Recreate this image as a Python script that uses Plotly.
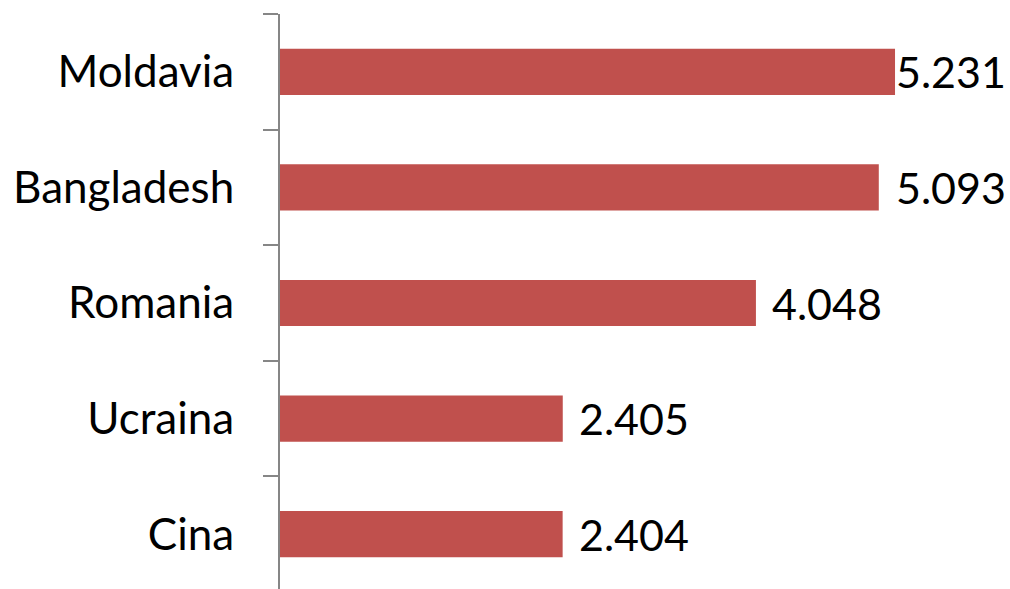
import plotly.graph_objects as go

countries = ["Cina", "Ucraina", "Romania", "Bangladesh", "Moldavia"]
values = [2404, 2405, 4048, 5093, 5231]
label_texts = ["2.404", "2.405", "4.048", "5.093", "5.231"]
label_shifts = [14, 14, 14, 15, -1]

fig = go.Figure(go.Bar(
    x=values, y=countries, orientation="h",
    marker=dict(color="#C0504D", line=dict(width=0)),
    hoverinfo="skip",
))

for c, v, t, s in zip(countries, values, label_texts, label_shifts):
    fig.add_annotation(
        x=v, y=c, xref="x", yref="y", text=t, showarrow=False,
        xanchor="left", yanchor="middle", xshift=s,
        font=dict(size=43, color="#000000", family="Lato"),
    )

fig.update_layout(
    width=1010, height=589,
    margin=dict(l=280, r=0, t=14, b=0),
    paper_bgcolor="white", plot_bgcolor="white",
    bargap=0.6,
    showlegend=False,
    font=dict(family="Lato", color="#000000"),
    xaxis=dict(range=[0, 6209], visible=False, showgrid=False, zeroline=False),
    yaxis=dict(
        type="category", range=[-0.474, 4.5],
        showline=True, linecolor="#868686", linewidth=2,
        ticks="outside", ticklen=15, tickcolor="#868686", tickwidth=2,
        tickson="boundaries", showgrid=False,
        tickfont=dict(size=44, color="#000000", family="Lato"),
        ticklabelstandoff=35,
    ),
)

fig.write_html("out.html")
